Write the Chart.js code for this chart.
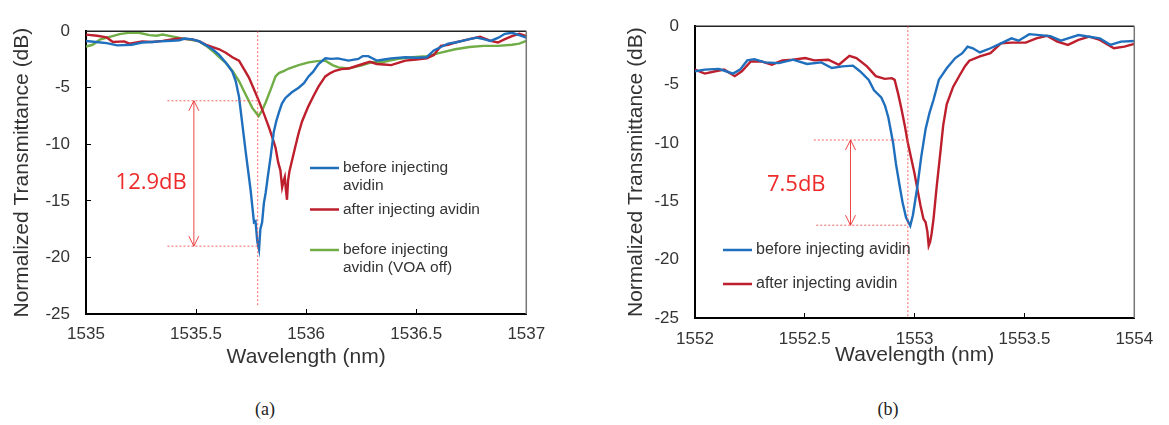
<!DOCTYPE html>
<html>
<head>
<meta charset="utf-8">
<script src="https://cdn.jsdelivr.net/npm/chart.js@4.4.1/dist/chart.umd.min.js"></script>
<style>
  body { margin: 0; background: #fff; width: 1169px; height: 425px; overflow: hidden; position: relative; }
  #wa { position: absolute; left: 0; top: 0; width: 560px; height: 380px; }
  #wb { position: absolute; left: 590px; top: 0; width: 579px; height: 385px; }
  .cap { position: absolute; top: 398px; width: 60px; text-align: center; font: 18px "Liberation Serif", serif; color: #222; line-height: 22px; }
</style>
</head>
<body>
<div id="wa"><canvas id="chartA"></canvas></div>
<div id="wb"><canvas id="chartB"></canvas></div>
<div class="cap" style="left:235px">(a)</div>
<div class="cap" style="left:858px">(b)</div>
<script>
// (a) wavelength (nm), normalized transmittance (dB)
const beforeA = [[1535.000,-0.86],[1535.045,-0.95],[1535.094,-1.05],[1535.142,-1.25],[1535.207,-1.2],[1535.255,-1.0],[1535.300,-0.95],[1535.336,-0.9],[1535.390,-0.85],[1535.424,-0.8],[1535.449,-0.65],[1535.483,-0.72],[1535.515,-0.9],[1535.545,-1.25],[1535.575,-1.6],[1535.605,-2.1],[1535.640,-2.9],[1535.665,-3.6],[1535.680,-4.4],[1535.695,-5.8],[1535.710,-8.2],[1535.725,-10.6],[1535.748,-14.1],[1535.763,-16.9],[1535.770,-16.8],[1535.778,-18.6],[1535.786,-19.3],[1535.792,-17.5],[1535.800,-16.9],[1535.808,-15.2],[1535.816,-14.3],[1535.827,-12.7],[1535.838,-11.2],[1535.853,-8.9],[1535.865,-7.9],[1535.876,-7.2],[1535.890,-6.4],[1535.906,-5.9],[1535.935,-5.4],[1535.966,-5.0],[1535.990,-4.6],[1536.011,-4.0],[1536.031,-3.6],[1536.056,-2.9],[1536.087,-2.4],[1536.115,-2.45],[1536.144,-2.4],[1536.192,-2.6],[1536.237,-2.45],[1536.257,-2.2],[1536.282,-2.2],[1536.321,-2.6],[1536.354,-2.5],[1536.386,-2.4],[1536.451,-2.3],[1536.500,-2.35],[1536.548,-2.3],[1536.580,-1.7],[1536.612,-1.4],[1536.645,-1.1],[1536.677,-1.0],[1536.709,-0.86],[1536.742,-0.7],[1536.774,-0.57],[1536.806,-0.7],[1536.838,-0.86],[1536.871,-0.6],[1536.903,-0.23],[1536.935,-0.14],[1536.968,-0.34],[1537.000,-0.57]];
const afterA = [[1535.000,-0.3],[1535.050,-0.4],[1535.094,-0.55],[1535.122,-0.95],[1535.174,-0.9],[1535.197,-1.1],[1535.255,-0.9],[1535.300,-0.95],[1535.348,-0.86],[1535.417,-0.65],[1535.483,-0.72],[1535.515,-0.9],[1535.546,-1.2],[1535.605,-1.6],[1535.635,-1.9],[1535.665,-2.3],[1535.695,-2.6],[1535.725,-3.6],[1535.740,-4.1],[1535.760,-5.0],[1535.786,-6.2],[1535.810,-7.4],[1535.831,-8.5],[1535.850,-9.6],[1535.861,-10.3],[1535.873,-11.6],[1535.883,-12.3],[1535.891,-13.8],[1535.897,-13.3],[1535.903,-12.9],[1535.908,-14.0],[1535.913,-14.9],[1535.918,-13.2],[1535.924,-12.4],[1535.935,-11.5],[1535.951,-10.2],[1535.966,-9.0],[1535.981,-8.0],[1536.000,-7.1],[1536.011,-6.6],[1536.034,-5.7],[1536.056,-4.9],[1536.087,-4.0],[1536.110,-3.7],[1536.131,-3.5],[1536.160,-3.35],[1536.192,-3.3],[1536.225,-3.1],[1536.257,-2.9],[1536.289,-2.7],[1536.321,-2.9],[1536.354,-2.95],[1536.386,-3.0],[1536.418,-2.8],[1536.451,-2.6],[1536.500,-2.5],[1536.548,-2.4],[1536.580,-2.1],[1536.612,-1.3],[1536.645,-1.2],[1536.677,-1.0],[1536.742,-0.7],[1536.790,-0.5],[1536.838,-0.86],[1536.871,-1.0],[1536.903,-0.7],[1536.935,-0.43],[1536.968,-0.23],[1537.000,-0.43]];
const voaOffA = [[1535.000,-1.35],[1535.030,-1.2],[1535.063,-0.75],[1535.100,-0.55],[1535.153,-0.26],[1535.191,-0.15],[1535.236,-0.12],[1535.288,-0.35],[1535.320,-0.4],[1535.348,-0.29],[1535.401,-0.5],[1535.449,-0.68],[1535.483,-0.78],[1535.515,-0.9],[1535.546,-1.3],[1535.575,-1.75],[1535.605,-2.3],[1535.635,-2.8],[1535.665,-3.5],[1535.695,-4.4],[1535.725,-5.6],[1535.756,-6.8],[1535.784,-7.5],[1535.800,-7.0],[1535.816,-6.3],[1535.840,-5.1],[1535.861,-4.0],[1535.876,-3.7],[1535.900,-3.5],[1535.921,-3.3],[1535.966,-3.0],[1536.011,-2.75],[1536.050,-2.65],[1536.087,-2.6],[1536.120,-3.0],[1536.147,-3.2],[1536.192,-3.3],[1536.257,-3.0],[1536.296,-2.75],[1536.354,-2.7],[1536.418,-2.45],[1536.483,-2.3],[1536.548,-2.2],[1536.580,-2.05],[1536.612,-1.9],[1536.677,-1.6],[1536.742,-1.4],[1536.806,-1.3],[1536.871,-1.3],[1536.935,-1.2],[1536.968,-1.1],[1537.000,-0.86]];

// (b)
const beforeB = [[1552.000,-3.86],[1552.045,-3.72],[1552.109,-3.66],[1552.141,-3.86],[1552.173,-4.06],[1552.205,-3.72],[1552.238,-2.93],[1552.270,-2.82],[1552.318,-3.1],[1552.382,-3.16],[1552.446,-2.87],[1552.510,-3.24],[1552.575,-3.1],[1552.623,-3.58],[1552.671,-3.44],[1552.719,-3.38],[1552.751,-3.86],[1552.791,-4.6],[1552.815,-5.5],[1552.848,-6.1],[1552.865,-6.8],[1552.880,-7.8],[1552.892,-9.0],[1552.902,-10.0],[1552.915,-11.8],[1552.931,-13.6],[1552.946,-15.2],[1552.961,-16.4],[1552.980,-17.1],[1552.992,-16.2],[1553.012,-13.8],[1553.030,-11.2],[1553.050,-8.8],[1553.068,-7.4],[1553.086,-6.3],[1553.110,-4.6],[1553.146,-3.6],[1553.185,-2.73],[1553.217,-2.31],[1553.241,-1.75],[1553.265,-1.89],[1553.297,-2.25],[1553.345,-1.89],[1553.393,-1.47],[1553.441,-1.04],[1553.473,-1.24],[1553.522,-0.68],[1553.570,-0.76],[1553.618,-0.85],[1553.666,-1.24],[1553.698,-1.04],[1553.746,-0.76],[1553.795,-0.9],[1553.843,-1.04],[1553.891,-1.6],[1553.939,-1.32],[1554.000,-1.27]];
const afterB = [[1552.000,-3.72],[1552.045,-4.06],[1552.093,-3.86],[1552.133,-3.72],[1552.181,-4.28],[1552.213,-3.86],[1552.254,-3.02],[1552.302,-3.02],[1552.350,-3.3],[1552.398,-2.93],[1552.446,-2.87],[1552.502,-2.73],[1552.543,-2.93],[1552.607,-2.87],[1552.655,-3.3],[1552.703,-2.54],[1552.735,-2.73],[1552.783,-3.44],[1552.823,-4.28],[1552.864,-4.51],[1552.896,-4.45],[1552.909,-4.6],[1552.925,-5.8],[1552.939,-7.0],[1552.955,-8.5],[1552.968,-9.9],[1552.984,-11.3],[1552.998,-12.5],[1553.013,-14.0],[1553.027,-15.4],[1553.040,-16.5],[1553.050,-16.8],[1553.058,-17.6],[1553.064,-18.8],[1553.070,-18.5],[1553.077,-17.8],[1553.086,-16.5],[1553.100,-13.8],[1553.116,-11.0],[1553.130,-8.5],[1553.146,-6.7],[1553.175,-5.2],[1553.205,-4.2],[1553.230,-3.4],[1553.249,-2.95],[1553.297,-2.59],[1553.345,-2.31],[1553.393,-1.47],[1553.441,-1.41],[1553.506,-1.41],[1553.554,-1.04],[1553.602,-0.82],[1553.650,-1.32],[1553.698,-1.6],[1553.746,-1.18],[1553.795,-0.9],[1553.843,-1.18],[1553.907,-1.89],[1553.955,-1.75],[1554.000,-1.52]];

const xTicksA = [1535, 1535.5, 1536, 1536.5, 1537];
const xTicksB = [1552, 1552.5, 1553, 1553.5, 1554];
const yTicks = [0, -5, -10, -15, -20, -25];

// depth markers, in data units
const depthA = { wave: 1535.78, vEnd: -24.4, hi: -6.15, lo: -19.0, hiFrom: 1535.37, loFrom: 1535.37, arrow: 1535.49, text: '12.9dB', tx: 1535.296, ty: -13.4 };
const depthB = { wave: 1552.969, vEnd: -25, hi: -9.75, lo: -17.05, hiFrom: 1552.541, loFrom: 1552.552, arrow: 1552.708, text: '7.5dB', tx: 1552.461, ty: -13.6 };

const BLUE = '#1f6fbd', RED = '#bd1f2d', GREEN = '#70ad47';
const INK = '#333';

const frame = {
  id: 'frame',
  afterDatasetsDraw(chart) {
    const { ctx, chartArea: a } = chart;
    ctx.save();
    ctx.lineWidth = 1.5;
    ctx.strokeStyle = '#222';
    ctx.beginPath(); ctx.moveTo(a.left, a.top); ctx.lineTo(a.right, a.top); ctx.stroke();
    ctx.strokeStyle = '#777';
    ctx.beginPath(); ctx.moveTo(a.right, a.top); ctx.lineTo(a.right, a.bottom); ctx.stroke();
    ctx.restore();
  }
};

const depth = {
  id: 'depth',
  afterDatasetsDraw(chart, args, o) {
    const d = o.mark;
    const { ctx } = chart;
    const sx = chart.scales.x, sy = chart.scales.y;
    const X = v => sx.getPixelForValue(v), Y = v => sy.getPixelForValue(v);
    ctx.save();
    ctx.strokeStyle = 'rgba(240,70,70,0.85)';
    ctx.lineWidth = 1;
    ctx.setLineDash([2, 2]);
    ctx.beginPath();
    ctx.moveTo(X(d.wave), Y(0)); ctx.lineTo(X(d.wave), Y(d.vEnd));
    ctx.moveTo(X(d.hiFrom), Y(d.hi)); ctx.lineTo(X(d.wave), Y(d.hi));
    ctx.moveTo(X(d.loFrom), Y(d.lo)); ctx.lineTo(X(d.wave), Y(d.lo));
    ctx.stroke();
    ctx.setLineDash([]);
    const ax = X(d.arrow), y1 = Y(d.hi), y2 = Y(d.lo);
    ctx.strokeStyle = 'rgba(235,50,50,0.9)';
    ctx.beginPath();
    ctx.moveTo(ax, y1); ctx.lineTo(ax, y2);
    ctx.moveTo(ax - 5, y1 + 10); ctx.lineTo(ax, y1); ctx.lineTo(ax + 5, y1 + 10);
    ctx.moveTo(ax - 5, y2 - 10); ctx.lineTo(ax, y2); ctx.lineTo(ax + 5, y2 - 10);
    ctx.stroke();
    ctx.fillStyle = '#ee2a2a';
    ctx.font = '22px "Open Sans", sans-serif';
    ctx.textAlign = 'center';
    ctx.textBaseline = 'middle';
    ctx.fillText(d.text, X(d.tx), Y(d.ty));
    ctx.restore();
  }
};

const inLegend = {
  id: 'inLegend',
  afterDatasetsDraw(chart, args, o) {
    const { ctx } = chart;
    ctx.save();
    ctx.font = o.font;
    ctx.fillStyle = INK;
    ctx.textAlign = 'left';
    ctx.textBaseline = 'middle';
    chart.data.datasets.forEach((ds, i) => {
      const y = o.rows[i];
      ctx.strokeStyle = ds.borderColor;
      ctx.lineWidth = 2.5;
      ctx.beginPath(); ctx.moveTo(o.x, y); ctx.lineTo(o.x + o.len, y); ctx.stroke();
      ds.label.split('\n').forEach((t, k) => ctx.fillText(t, o.x + o.len + 4, y + k * o.lh));
    });
    ctx.restore();
  }
};

function build(id, series, c) {
  return new Chart(document.getElementById(id), {
    type: 'line',
    data: {
      datasets: series.map(s => ({
        label: s.label,
        data: s.points.map(p => ({ x: p[0], y: p[1] })),
        borderColor: s.color,
        borderWidth: 2.4,
        pointRadius: 0,
        tension: 0,
        fill: false
      }))
    },
    options: {
      animation: false,
      responsive: true,
      maintainAspectRatio: false,
      devicePixelRatio: 1,
      layout: { padding: { left: 0, top: c.top, right: c.right, bottom: 0 } },
      plugins: {
        legend: { display: false },
        tooltip: { enabled: false },
        depth: { mark: c.mark },
        inLegend: c.legend
      },
      scales: {
        x: {
          type: 'linear',
          min: c.xTicks[0],
          max: c.xTicks[c.xTicks.length - 1],
          afterBuildTicks: s => { s.ticks = c.xTicks.map(v => ({ value: v })); },
          afterFit: s => { s.height = c.xh; },
          ticks: { color: INK, font: { family: 'Liberation Sans', size: 17 }, padding: c.xPad, maxRotation: 0, callback: v => String(v) },
          grid: { drawOnChartArea: false, tickLength: -5, color: '#000', lineWidth: 1 },
          border: { color: '#000', width: 2 },
          title: { display: true, text: 'Wavelength (nm)', color: INK, font: { family: 'Liberation Sans', size: 21 }, padding: { top: 0, bottom: c.xTitlePad } }
        },
        y: {
          min: -25,
          max: 0,
          afterBuildTicks: s => { s.ticks = yTicks.map(v => ({ value: v })); },
          afterFit: s => { s.width = c.yw; },
          ticks: { color: INK, font: { family: 'Liberation Sans', size: 17 }, padding: c.yPad, callback: v => String(v) },
          grid: { drawOnChartArea: false, drawTicks: c.yTicksIn, tickLength: -5, color: '#000', lineWidth: 1 },
          border: { color: '#000', width: 2 },
          title: { display: true, text: 'Normalized Transmittance (dB)', color: INK, font: { family: 'Liberation Sans', size: 21 }, padding: { top: c.yTitlePad, bottom: 0 } }
        }
      }
    },
    plugins: [frame, depth, inLegend]
  });
}

build('chartA', [
  { label: 'before injecting\navidin', points: beforeA, color: BLUE },
  { label: 'after injecting avidin', points: afterA, color: RED },
  { label: 'before injecting\navidin (VOA off)', points: voaOffA, color: GREEN }
], {
  top: 23, right: 31, xh: 66, yw: 86, xPad: 14.8, yPad: 21, yTicksIn: true,
  xTitlePad: 10.4, yTitlePad: 9.4, xTicks: xTicksA, mark: depthA,
  legend: { x: 310, len: 29, rows: [168, 209.5, 250], lh: 18, font: '15.5px "Liberation Sans", sans-serif' }
});

build('chartB', [
  { label: 'before injecting avidin', points: beforeB, color: BLUE },
  { label: 'after injecting avidin', points: afterB, color: RED }
], {
  top: 24, right: 23, xh: 67, yw: 105, xPad: 15.8, yPad: 16, yTicksIn: false,
  xTitlePad: 17.4, yTitlePad: 33.4, xTicks: xTicksB, mark: depthB,
  legend: { x: 133, len: 29, rows: [250, 284], lh: 18, font: '16px "Liberation Sans", sans-serif' }
});
</script>
</body>
</html>
